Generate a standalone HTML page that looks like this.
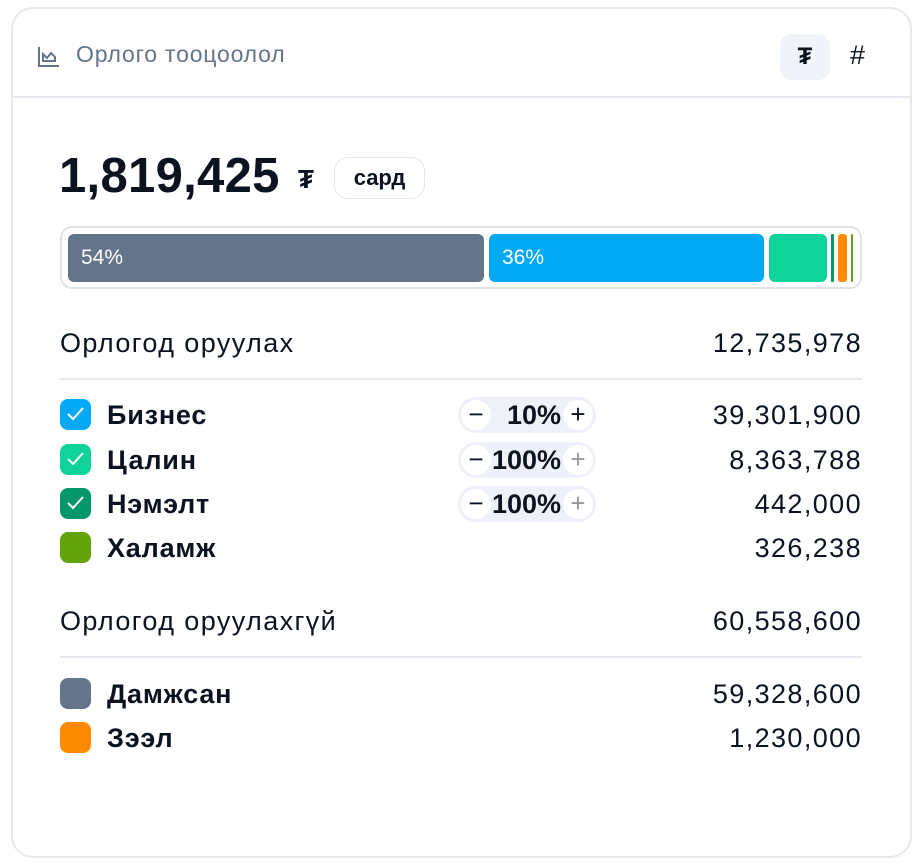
<!DOCTYPE html>
<html><head><meta charset="utf-8"><style>
*{box-sizing:border-box;margin:0;padding:0}
body{width:924px;height:866px;background:#fff;font-family:"Liberation Sans",sans-serif;color:#0b1220;position:relative;overflow:hidden}
.card{position:absolute;left:11px;top:7px;width:901px;height:851px;border:2px solid #e6e8ec;border-radius:22px;background:#fff}
.hdr{position:absolute;left:0;top:0;right:0;height:89px;border-bottom:2px solid #e5e8ee}
.abs{position:absolute}
.row{position:absolute;left:60px;width:802px;font-size:27px;letter-spacing:1.4px;height:36px;line-height:36px}
.row .v{position:absolute;right:0;top:0}
.lbl{position:absolute;left:47px;font-weight:bold;letter-spacing:0.8px}
.cb{position:absolute;left:0;top:2px;width:31px;height:31px;border-radius:8px}
.cb svg{position:absolute;left:6px;top:7px}
.st{position:absolute;left:398px;top:0;width:138px;height:36px;background:#eef1f8;border-radius:18px;letter-spacing:0}
.st .m,.st .p{position:absolute;top:3px;width:30px;height:30px;border-radius:15px;background:#fff;text-align:center;line-height:28px;font-size:26px}
.st .m{left:3px}.st .p{right:3px}
.st .t{position:absolute;right:35px;top:0;font-weight:bold}
.seg{position:absolute;top:234px;height:48px;border-radius:6px}
</style></head><body>
<div class="card"><div class="hdr"></div></div>
<svg class="abs" style="left:37px;top:45px" width="24" height="24" viewBox="0 0 24 24" fill="none" stroke="#64748b" stroke-width="2"><path d="M2 2v19h20"/><path d="M6 16V9l4 4 4-5 4 4v4z"/></svg>
<div class="abs" style="left:76px;top:41px;font-size:23px;letter-spacing:0.8px;color:#64748b">Орлого тооцоолол</div>
<div class="abs" style="left:780px;top:34px;width:50px;height:46px;border-radius:12px;background:#f0f3f8;text-align:center;line-height:46px;font-size:24px;font-weight:bold">₮</div>
<div class="abs" style="left:850px;top:40px;font-size:27px">#</div>
<div class="abs" style="left:59px;top:148px;font-size:49px;font-weight:bold;letter-spacing:0.3px">1,819,425</div>
<div class="abs" style="left:298px;top:164px;font-size:26px;font-weight:bold">₮</div>
<div class="abs" style="left:334px;top:157px;width:91px;height:42px;border:1.5px solid #e3e6ea;border-radius:14px;text-align:center;line-height:40px;font-size:22px;font-weight:bold">сард</div>
<div class="abs" style="left:60px;top:226px;width:802px;height:63px;border:2px solid #dfe2e6;border-radius:12px"></div>
<div class="seg" style="left:68px;width:416px;background:#64748b"></div>
<div class="seg" style="left:489px;width:275px;background:#03a9f4"></div>
<div class="seg" style="left:769px;width:58px;background:#0fd398"></div>
<div class="seg" style="left:831px;width:3px;background:#059669;border-radius:1px"></div>
<div class="seg" style="left:838px;width:9px;background:#ff8c00;border-radius:3px"></div>
<div class="seg" style="left:851px;width:2px;background:#65a30d;border-radius:1px"></div>
<div class="abs" style="left:81px;top:246px;font-size:21px;color:#fff">54%</div>
<div class="abs" style="left:502px;top:246px;font-size:21px;color:#fff">36%</div>

<div class="row" style="top:325px"><span>Орлогод оруулах</span><span class="v">12,735,978</span></div>
<div class="abs" style="left:60px;top:378px;width:802px;height:2px;background:#e5e8ee"></div>

<div class="row" style="top:397px"><div class="cb" style="background:#03a9f4"><svg width="19" height="16" viewBox="0 0 19 16"><path d="M2 8l5 5 10-11" stroke="#fff" stroke-width="2" fill="none"/></svg></div><span class="lbl">Бизнес</span>
<div class="st"><span class="m">−</span><span class="t">10%</span><span class="p">+</span></div><span class="v">39,301,900</span></div>
<div class="row" style="top:442px"><div class="cb" style="background:#0fd398"><svg width="19" height="16" viewBox="0 0 19 16"><path d="M2 8l5 5 10-11" stroke="#fff" stroke-width="2" fill="none"/></svg></div><span class="lbl">Цалин</span>
<div class="st"><span class="m">−</span><span class="t">100%</span><span class="p" style="color:#999">+</span></div><span class="v">8,363,788</span></div>
<div class="row" style="top:486px"><div class="cb" style="background:#059669"><svg width="19" height="16" viewBox="0 0 19 16"><path d="M2 8l5 5 10-11" stroke="#fff" stroke-width="2" fill="none"/></svg></div><span class="lbl">Нэмэлт</span>
<div class="st"><span class="m">−</span><span class="t">100%</span><span class="p" style="color:#999">+</span></div><span class="v">442,000</span></div>
<div class="row" style="top:530px"><div class="cb" style="background:#65a30d"></div><span class="lbl">Халамж</span><span class="v">326,238</span></div>

<div class="row" style="top:603px"><span>Орлогод оруулахгүй</span><span class="v">60,558,600</span></div>
<div class="abs" style="left:60px;top:656px;width:802px;height:2px;background:#e5e8ee"></div>
<div class="row" style="top:676px"><div class="cb" style="background:#64748b"></div><span class="lbl">Дамжсан</span><span class="v">59,328,600</span></div>
<div class="row" style="top:720px"><div class="cb" style="background:#ff8c00"></div><span class="lbl">Зээл</span><span class="v">1,230,000</span></div>
</body></html>
